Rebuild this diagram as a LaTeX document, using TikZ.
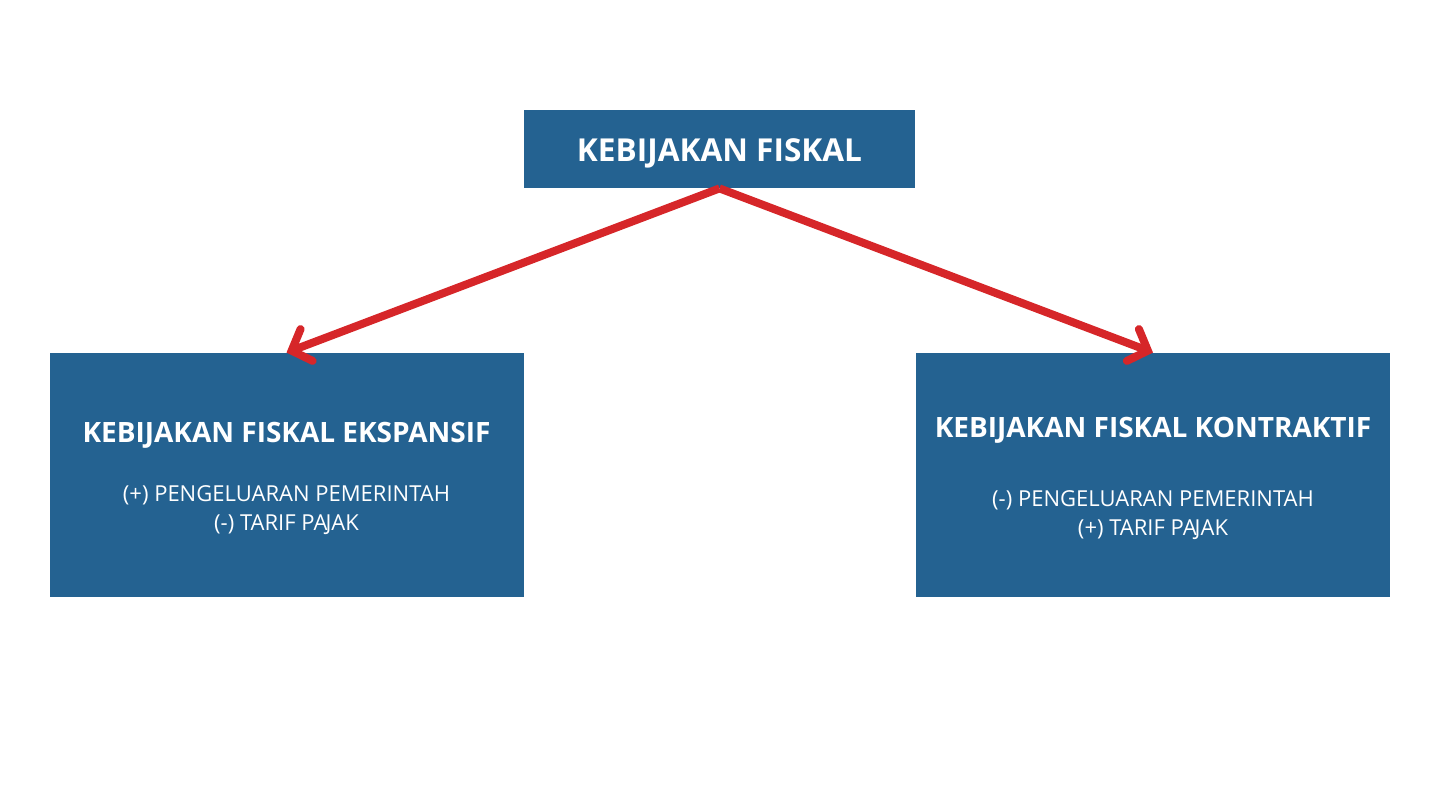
\documentclass[tikz,border=0pt]{standalone}
\usepackage{fontspec}
\setmainfont{Open Sans}
\usetikzlibrary{arrows.meta}
\definecolor{biru}{RGB}{36,98,145}
\definecolor{merah}{RGB}{214,38,41}
\tikzset{
  blok/.style = {inner sep=0pt, fill=biru},
  blok_top/.style = {blok, minimum width=195.5pt, minimum height=39pt},
  blok_sub/.style = {blok, minimum width=237pt, minimum height=122pt},
  teks/.style = {align=center, inner sep=0pt, text centered, text=white,
    font=\fontsize{11}{14.5}\selectfont},
  teks_b/.style = {teks, font=\bfseries\fontsize{14}{16}\selectfont}}

\begin{document}
\begin{tikzpicture}[x=0.5pt,y=-0.5pt,
  panah/.style={draw=merah, line width=4pt,
    -{Straight Barb[length=8pt, width=17pt, line cap=round]}}]
\useasboundingbox (0,0) rectangle (1440,810);

\node [blok_top] (fiskal) at (719.5,149) {};
\node [blok_sub] (ekspansif) at (286.5,475) {};
\node [blok_sub] (kontraktif) at (1153,475) {};

% teks di dalam kotak
\node [teks_b, font=\bfseries\fontsize{15.8}{19}\selectfont] (fiskal_t)
  at ([yshift=-2pt]fiskal.center) {KEBIJAKAN FISKAL};
\node [teks] (ekspansif_t) at ([yshift=-1.5pt]ekspansif.center)
  {{\bfseries\fontsize{14}{16}\selectfont KEBIJAKAN FISKAL EKSPANSIF}\\[15pt]
   (+) PENGELUARAN PEMERINTAH\\
   (-) TARIF PA\kern-1pt JAK};
\node [teks] (kontraktif_t) at ([yshift=-1.5pt]kontraktif.center)
  {{\bfseries\fontsize{14}{16}\selectfont KEBIJAKAN FISKAL KONTRAKTIF}\\[20pt]
   (-) PENGELUARAN PEMERINTAH\\
   (+) TARIF PA\kern-1pt JAK};

\draw [panah] (fiskal.south) -- (ekspansif.north);
\draw [panah] (fiskal.south) -- (kontraktif.north);
\end{tikzpicture}
\end{document}
